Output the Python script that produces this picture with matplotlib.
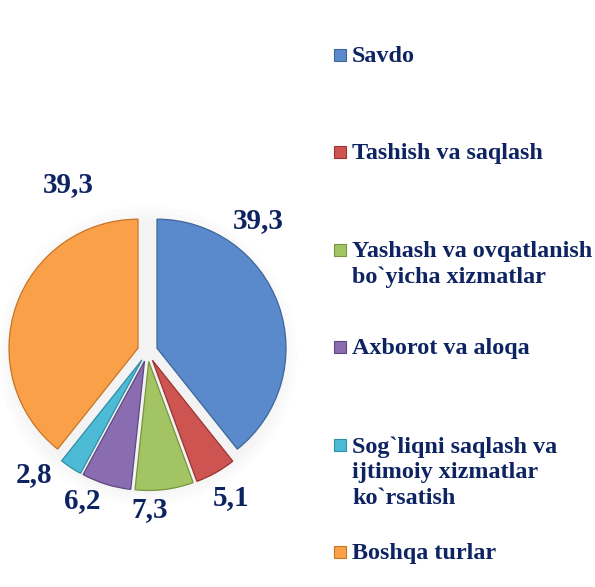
import matplotlib.pyplot as plt
from matplotlib.patches import Rectangle

categories = ['Savdo', 'Tashish va saqlash',
              'Yashash va ovqatlanish\nbo`yicha xizmatlar', 'Axborot va aloqa',
              'Sog`liqni saqlash va\nijtimoiy xizmatlar\nko`rsatish', 'Boshqa turlar']
values = [39.3, 5.1, 7.3, 6.2, 2.8, 39.3]
value_labels = ['39,3', '5,1', '7,3', '6,2', '2,8', '39,3']

colors = ['#5A8ACB', '#CD5450', '#A3C463', '#8A6DB0', '#4DBBD6', '#F9A048']
edges = ['#3D6699', '#9A3532', '#78943F', '#5F4782', '#2F8EA6', '#C77525']
navy = '#0E2462'

plt.rcParams['font.family'] = ['Liberation Serif', 'DejaVu Serif']

W, H = 595, 587
fig = plt.figure(figsize=(W / 100, H / 100), dpi=100)

# pie axes: centre (147.5, 351.5) px from top-left, radius 129 px
cx, cy, r = 147.5, 351.5, 129
half = 160
ax = fig.add_axes([(cx - half) / W, 1 - (cy + half) / H, 2 * half / W, 2 * half / H])
lim = half / r

# soft glow behind the pie
for k, a in enumerate([0.025, 0.025, 0.03, 0.03]):
    ax.add_patch(plt.Circle((0, -0.03), 1.16 - 0.04 * k, color='#9A9A9A', alpha=a, lw=0, zorder=0))

wedges, _ = ax.pie(values, colors=colors, startangle=90, counterclock=False,
                   explode=[0.078] * len(values), radius=1.0,
                   wedgeprops=dict(linewidth=0.9), frame=True)
for w, ec in zip(wedges, edges):
    w.set_edgecolor(ec)
    w.set_zorder(2)
ax.set_xlim(-lim, lim)
ax.set_ylim(-lim, lim)
ax.set_aspect('equal')
ax.axis('off')

# data labels
label_pos = [(258, 221), (231, 498), (150, 510), (82, 501), (34, 475), (68, 185)]
for txt, (px, py) in zip(value_labels, label_pos):
    fig.text(px / W, 1 - py / H, txt, ha='center', va='center',
             fontsize=21, fontweight='bold', color=navy)

# legend
legend_y = [55, 152, 250, 347, 445, 552]
for lab, col, ec, ly in zip(categories, colors, edges, legend_y):
    fig.patches.append(Rectangle((334 / W, 1 - (ly + 6) / H), 12 / W, 12 / H,
                                 transform=fig.transFigure, facecolor=col,
                                 edgecolor=ec, linewidth=0.8, figure=fig))
    fig.text(352 / W, 1 - (ly - 9) / H, lab, ha='left', va='top',
             fontsize=17.4, fontweight='bold', color=navy, linespacing=1.29)

fig.savefig('out.png', dpi=100, facecolor='white')
